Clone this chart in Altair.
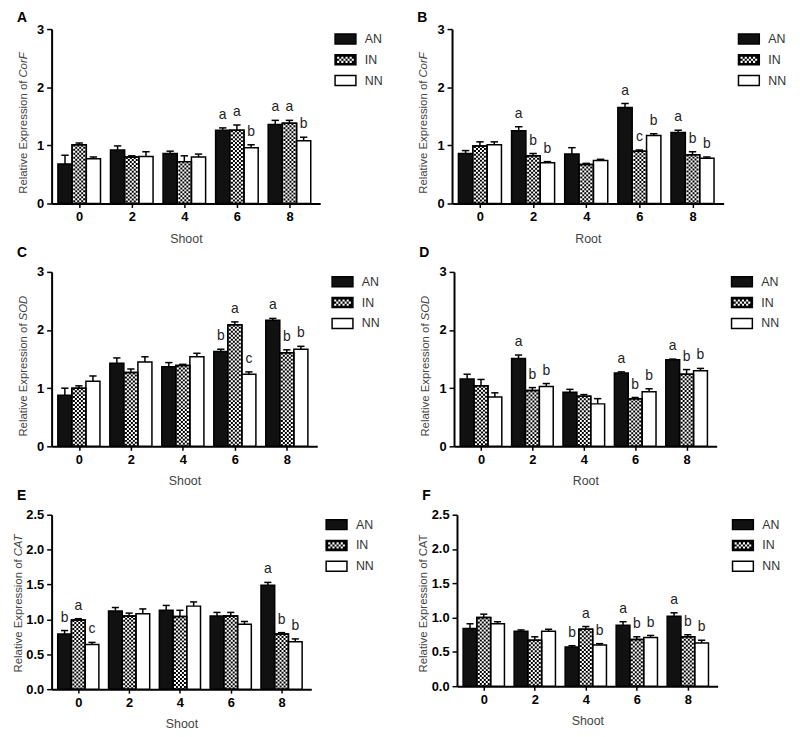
import altair as alt
import pandas as pd

times = [0, 2, 4, 6, 8]
series = ["AN", "IN", "NN"]

# ---- Panel A: CorF, Shoot
A_AN = [0.68, 0.92, 0.86, 1.26, 1.36]
A_IN = [1.01, 0.80, 0.72, 1.26, 1.38]
A_NN = [0.77, 0.81, 0.80, 0.96, 1.08]
A_AN_err = [0.15, 0.07, 0.04, 0.04, 0.07]
A_IN_err = [0.03, 0.02, 0.10, 0.09, 0.05]
A_NN_err = [0.03, 0.08, 0.05, 0.05, 0.06]
A_AN_sig = ["", "", "", "a", "a"]
A_IN_sig = ["", "", "", "a", "a"]
A_NN_sig = ["", "", "", "b", "b"]

# ---- Panel B: CorF, Root
B_AN = [0.86, 1.25, 0.85, 1.65, 1.22]
B_IN = [0.99, 0.82, 0.67, 0.90, 0.84]
B_NN = [1.01, 0.70, 0.74, 1.17, 0.78]
B_AN_err = [0.05, 0.07, 0.11, 0.07, 0.04]
B_IN_err = [0.07, 0.04, 0.02, 0.02, 0.05]
B_NN_err = [0.05, 0.02, 0.02, 0.03, 0.02]
B_AN_sig = ["", "a", "", "a", "a"]
B_IN_sig = ["", "b", "", "c", "b"]
B_NN_sig = ["", "b", "", "b", "b"]

# ---- Panel C: SOD, Shoot
C_AN = [0.88, 1.43, 1.37, 1.63, 2.17]
C_IN = [1.00, 1.27, 1.39, 2.09, 1.61]
C_NN = [1.12, 1.45, 1.54, 1.24, 1.67]
C_AN_err = [0.12, 0.09, 0.07, 0.04, 0.03]
C_IN_err = [0.04, 0.06, 0.02, 0.05, 0.05]
C_NN_err = [0.09, 0.09, 0.06, 0.04, 0.05]
C_AN_sig = ["", "", "", "b", "a"]
C_IN_sig = ["", "", "", "a", "b"]
C_NN_sig = ["", "", "", "c", "b"]

# ---- Panel D: SOD, Root
D_AN = [1.16, 1.51, 0.93, 1.26, 1.49]
D_IN = [1.04, 0.96, 0.86, 0.82, 1.24]
D_NN = [0.85, 1.03, 0.73, 0.94, 1.30]
D_AN_err = [0.08, 0.06, 0.05, 0.02, 0.01]
D_IN_err = [0.11, 0.05, 0.03, 0.02, 0.08]
D_NN_err = [0.07, 0.05, 0.09, 0.05, 0.04]
D_AN_sig = ["", "a", "", "a", "a"]
D_IN_sig = ["", "b", "", "b", "b"]
D_NN_sig = ["", "b", "", "b", "b"]

# ---- Panel E: CAT, Shoot
E_AN = [0.79, 1.12, 1.13, 1.05, 1.49]
E_IN = [0.99, 1.05, 1.04, 1.05, 0.79]
E_NN = [0.64, 1.08, 1.19, 0.93, 0.68]
E_AN_err = [0.05, 0.05, 0.07, 0.05, 0.04]
E_IN_err = [0.02, 0.04, 0.09, 0.05, 0.02]
E_NN_err = [0.03, 0.07, 0.06, 0.04, 0.04]
E_AN_sig = ["b", "", "", "", "a"]
E_IN_sig = ["a", "", "", "", "b"]
E_NN_sig = ["c", "", "", "", "b"]

# ---- Panel F: CAT, Root (axis labelled "Shoot" in the original)
F_AN = [0.84, 0.80, 0.57, 0.89, 1.02]
F_IN = [1.00, 0.67, 0.83, 0.68, 0.72]
F_NN = [0.91, 0.80, 0.60, 0.71, 0.63]
F_AN_err = [0.07, 0.02, 0.02, 0.05, 0.05]
F_IN_err = [0.05, 0.05, 0.04, 0.04, 0.03]
F_NN_err = [0.03, 0.03, 0.02, 0.03, 0.04]
F_AN_sig = ["", "", "b", "a", "a"]
F_IN_sig = ["", "", "a", "b", "b"]
F_NN_sig = ["", "", "b", "b", "b"]

FONT = "Liberation Sans"
BAR_W = 0.54
XDOM = [-1.05, 9.17]
FILLS = ["#111111", "white", "white"]


def make_df(means, errs, sigs):
    rows = []
    for idx, s in enumerate(series):
        for k, t in enumerate(times):
            rows.append({"time": t, "series": s, "idx": idx,
                         "mean": means[idx][k], "err": errs[idx][k], "sig": sigs[idx][k]})
    return pd.DataFrame(rows)


def swatch_path(checker):
    if not checker:
        return "M-1,-0.48H1V0.48H-1Z"
    parts = []
    c = 0.2
    for i in range(3):
        for j in range(8):
            if (i + j) % 2 == 0:
                x0 = -0.8 + c * j
                y0 = -0.3 + c * i
                parts.append(f"M{x0:.2f},{y0:.2f}h{c}v{c}h{-c}Z")
    return "".join(parts)


def panel(df, label, gene, italic, xtitle, ymax, yvals, yfmt, W, H, label_y, title_x, title_p):
    xscale = alt.Scale(domain=XDOM, nice=False, zero=False)
    yscale = alt.Scale(domain=[0, ymax], nice=False, zero=True)
    fill_scale = alt.Scale(domain=series, range=FILLS)
    xaxis = alt.Axis(values=times, title=xtitle, format="d", tickSize=4, labelPadding=3,
                     titlePadding=9, labelFlush=False, grid=False)
    yaxis = alt.Axis(values=yvals, format=yfmt, title=None, tickSize=5, labelPadding=3,
                     grid=False)

    base = alt.Chart(df).transform_calculate(
        xc=f"datum.time + (datum.idx - 1) * {BAR_W}",
        x0=f"datum.time + (datum.idx - 1) * {BAR_W} - {BAR_W / 2}",
        x1=f"datum.time + (datum.idx - 1) * {BAR_W} + {BAR_W / 2}",
        c0=f"datum.time + (datum.idx - 1) * {BAR_W} - 0.14",
        c1=f"datum.time + (datum.idx - 1) * {BAR_W} + 0.14",
        top="datum.mean + datum.err",
    )

    def X(f):
        return alt.X(f, scale=xscale, axis=xaxis, title=xtitle)

    def Y(f):
        return alt.Y(f, scale=yscale, axis=yaxis, title=None)

    bars = base.mark_rect(stroke="black", strokeWidth=1.5).encode(
        x=X("x0:Q"),
        x2="x1:Q",
        y=Y("mean:Q"),
        y2=alt.datum(0),
        fill=alt.Fill("series:N", scale=fill_scale, legend=None),
    )

    in_base = base.transform_filter("datum.series == 'IN'")
    checks = []
    for n, dx in enumerate([-5, -3, -1, 1, 3, 5]):
        checks.append(
            in_base.mark_rule(color="black", strokeWidth=2, strokeDash=[2, 2],
                              strokeDashOffset=2 * (n % 2), xOffset=dx).encode(
                x=X("xc:Q"),
                y=Y("mean:Q"),
                y2=alt.datum(0),
            )
        )
    outline = in_base.mark_rect(fill="transparent", stroke="black", strokeWidth=1.5).encode(
        x=X("x0:Q"),
        x2="x1:Q",
        y=Y("mean:Q"),
        y2=alt.datum(0),
    )
    err = base.mark_rule(color="black", strokeWidth=1.5).encode(
        x=X("xc:Q"),
        y=Y("mean:Q"),
        y2="top:Q",
    )
    caps = base.mark_rule(color="black", strokeWidth=1.5).encode(
        x=X("c0:Q"),
        x2="c1:Q",
        y=Y("top:Q"),
    )
    letters = base.transform_filter("datum.sig != ''").mark_text(
        baseline="alphabetic", dy=-9, fontSize=14, font=FONT, color="#222222").encode(
        x=X("xc:Q"),
        y=Y("top:Q"),
        text="sig:N",
    )
    main = alt.layer(bars, *checks, outline, err, caps, letters)

    # legend
    leg_df = pd.DataFrame({"series": series})
    lscale = alt.Scale(type="point", domain=series, range=[10, 52], padding=0)
    leg_base = alt.Chart(leg_df)
    sw = leg_base.mark_point(shape=swatch_path(False), size=441, filled=True,
                             stroke="black", strokeWidth=1.5, opacity=1).encode(
        x=alt.value(W + 25.5),
        y=alt.Y("series:N", scale=lscale, axis=None),
        fill=alt.Fill("series:N", scale=fill_scale, legend=None),
    )
    sw_in_black = leg_base.transform_filter("datum.series == 'IN'").mark_point(
        shape=swatch_path(False), size=441, filled=True, color="black", opacity=1).encode(
        x=alt.value(W + 25.5),
        y=alt.Y("series:N", scale=lscale, axis=None),
    )
    sw_in = leg_base.transform_filter("datum.series == 'IN'").mark_point(
        shape=swatch_path(True), size=441, filled=True, color="white", opacity=1).encode(
        x=alt.value(W + 25.5),
        y=alt.Y("series:N", scale=lscale, axis=None),
    )
    ltext = leg_base.mark_text(align="left", baseline="middle", fontSize=12.5, font=FONT,
                               color="#333333").encode(
        x=alt.value(W + 45),
        y=alt.Y("series:N", scale=lscale, axis=None),
        text="series:N",
    )
    legend = alt.layer(sw, sw_in_black, sw_in, ltext)

    lab = alt.Chart(pd.DataFrame({"t": [label]})).mark_text(
        align="left", baseline="middle", fontSize=14, fontWeight="bold", font=FONT,
        color="black").encode(x=alt.value(-35), y=alt.value(label_y), text="t:N")
    yt1 = alt.Chart(pd.DataFrame({"t": ["Relative Expression of"]})).mark_text(
        align="right", baseline="middle", angle=270, fontSize=11.5, font=FONT,
        color="#444444").encode(x=alt.value(title_x), y=alt.value(title_p), text="t:N")
    yt2 = alt.Chart(pd.DataFrame({"t": [gene]})).mark_text(
        align="left", baseline="middle", angle=270, fontSize=11.5, font=FONT,
        fontStyle="italic" if italic else "normal",
        color="#444444").encode(x=alt.value(title_x), y=alt.value(title_p - 3), text="t:N")

    return alt.layer(main, legend, lab, yt1, yt2).resolve_scale(y="independent").properties(
        width=W, height=H)


dfA = make_df([A_AN, A_IN, A_NN], [A_AN_err, A_IN_err, A_NN_err], [A_AN_sig, A_IN_sig, A_NN_sig])
dfB = make_df([B_AN, B_IN, B_NN], [B_AN_err, B_IN_err, B_NN_err], [B_AN_sig, B_IN_sig, B_NN_sig])
dfC = make_df([C_AN, C_IN, C_NN], [C_AN_err, C_IN_err, C_NN_err], [C_AN_sig, C_IN_sig, C_NN_sig])
dfD = make_df([D_AN, D_IN, D_NN], [D_AN_err, D_IN_err, D_NN_err], [D_AN_sig, D_IN_sig, D_NN_sig])
dfE = make_df([E_AN, E_IN, E_NN], [E_AN_err, E_IN_err, E_NN_err], [E_AN_sig, E_IN_sig, E_NN_sig])
dfF = make_df([F_AN, F_IN, F_NN], [F_AN_err, F_IN_err, F_NN_err], [F_AN_sig, F_IN_sig, F_NN_sig])

y3 = [0, 1, 2, 3]
y25 = [0, 0.5, 1.0, 1.5, 2.0, 2.5]

pA = panel(dfA, "A", "CorF", True, "Shoot", 3, y3, "d", 271, 176, -11, -28, 52)
pB = panel(dfB, "B", "CorF", True, "Root", 3, y3, "d", 274, 176, -11, -28, 52)
pC = panel(dfC, "C", "SOD", True, "Shoot", 3, y3, "d", 268, 176, -19, -28, 52)
pD = panel(dfD, "D", "SOD", True, "Root", 3, y3, "d", 265, 176, -19, -28, 52)
pE = panel(dfE, "E", "CAT", True, "Shoot", 2.5, y25, ".1f", 262, 176, -19, -33, 45)
pF = panel(dfF, "F", "CAT", False, "Shoot", 2.5, y25, ".1f", 263, 173, -19, -33, 45)

row1 = alt.hconcat(pA, pB, spacing=34)
row2 = alt.hconcat(pC, pD, spacing=39)
row3 = alt.hconcat(pE, pF, spacing=44)

chart = alt.vconcat(row1, row2, row3, spacing=1).properties(
    padding={"left": 5, "top": 0, "right": 5, "bottom": 0},
    background="white",
).configure_view(stroke=None).configure_axis(
    grid=False,
    domainColor="black",
    domainWidth=2,
    tickColor="black",
    tickWidth=1.5,
    labelColor="black",
    labelFont=FONT,
    labelFontSize=13,
    labelFontWeight="bold",
    titleFont=FONT,
    titleFontSize=12.5,
    titleFontWeight="normal",
    titleColor="#444444",
)

chart.save("out.html", embed_options={"renderer": "svg", "actions": False})
